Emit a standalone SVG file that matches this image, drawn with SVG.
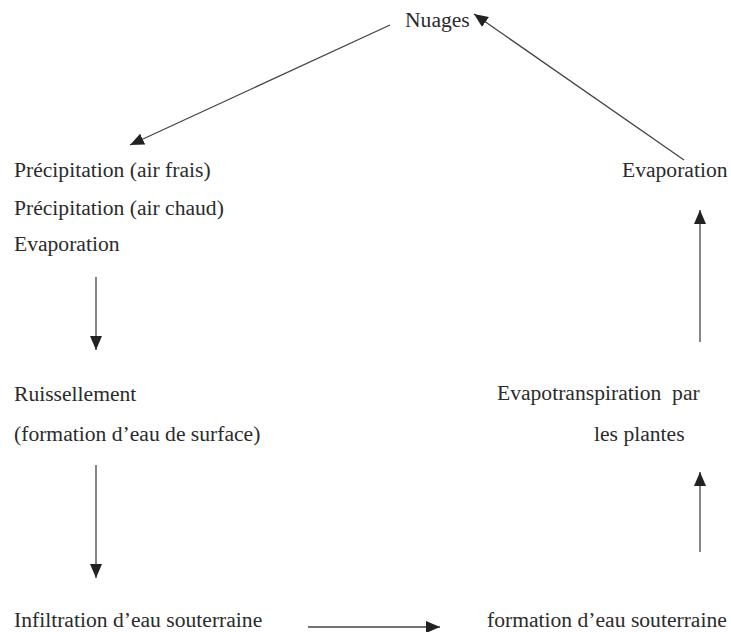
<svg xmlns="http://www.w3.org/2000/svg" width="731" height="632" viewBox="0 0 731 632">
<defs>
<style>
text{font-family:"Liberation Serif","Times New Roman",serif;font-size:21.6px;fill:#2b2b2b}
.c line{stroke:#444;stroke-width:1.3}
</style>
<marker id="ah" viewBox="0 0 14 12" refX="14" refY="6" markerWidth="14" markerHeight="12" markerUnits="userSpaceOnUse" orient="auto">
<path d="M0,0 L14,6 L0,12 Z" fill="#222"/>
</marker>
</defs>
<rect width="731" height="632" fill="#fff"/>
<g id="nuages"><text x="405" y="27">Nuages</text></g>
<g id="precip"><text x="14" y="177">Précipitation (air frais)</text><text x="14" y="215">Précipitation (air chaud)</text><text x="14" y="251">Evaporation</text></g>
<g id="evap-right"><text x="622" y="177">Evaporation</text></g>
<g id="ruissellement"><text x="14" y="401">Ruissellement</text><text x="14" y="441">(formation d’eau de surface)</text></g>
<g id="evapotranspiration"><text x="497" y="400" xml:space="preserve">Evapotranspiration  par</text><text x="594" y="441">les plantes</text></g>
<g id="infiltration"><text x="14" y="627">Infiltration d’eau souterraine</text></g>
<g id="formation"><text x="487" y="627">formation d’eau souterraine</text></g>
<g class="c" id="connectors">
<line x1="390" y1="25" x2="130" y2="145" marker-end="url(#ah)"/>
<line x1="684" y1="160" x2="474" y2="14" marker-end="url(#ah)"/>
<line x1="96" y1="277" x2="96" y2="350" marker-end="url(#ah)"/>
<line x1="96" y1="465" x2="96" y2="578" marker-end="url(#ah)"/>
<line x1="308" y1="627" x2="440" y2="627" marker-end="url(#ah)"/>
<line x1="700" y1="552" x2="700" y2="472" marker-end="url(#ah)"/>
<line x1="700" y1="342" x2="700" y2="210" marker-end="url(#ah)"/>
</g>
</svg>
